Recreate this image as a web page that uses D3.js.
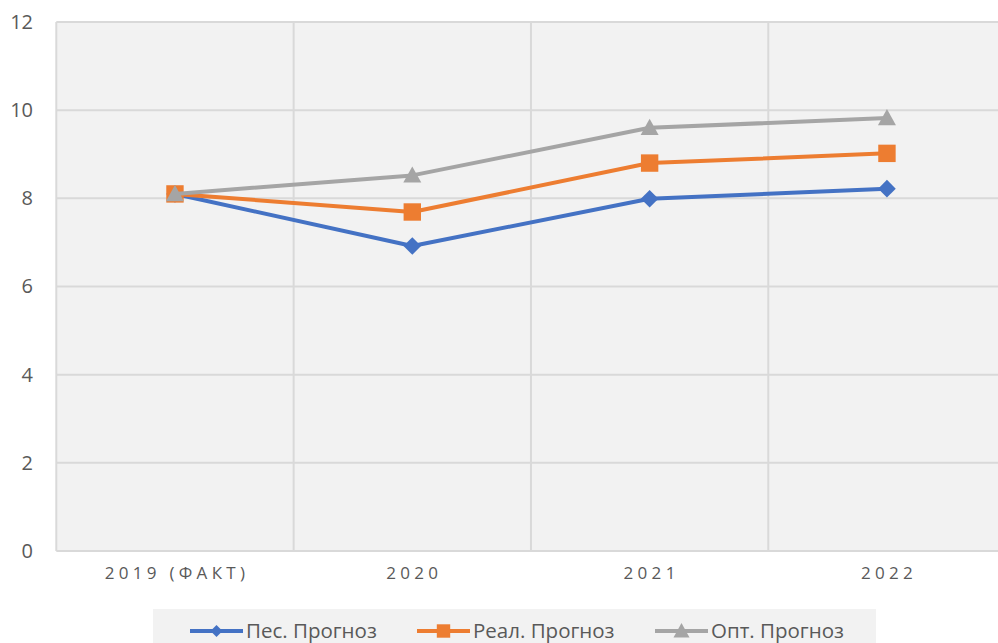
<!DOCTYPE html>
<html><head><meta charset="utf-8">
<script src="https://cdn.jsdelivr.net/npm/d3@7"></script>
<style>body{margin:0;background:#fff}svg{display:block}</style>
</head><body>
<svg id="c" width="998" height="643"></svg>
<script>
const categories = ["2019 (ФАКТ)", "2020", "2021", "2022"];
const pes = [8.1, 6.92, 7.99, 8.22];
const real = [8.1, 7.69, 8.8, 9.02];
const opt = [8.1, 8.52, 9.6, 9.82];
const yTicks = [0, 2, 4, 6, 8, 10, 12];
const seriesNames = ["Пес. Прогноз", "Реал. Прогноз", "Опт. Прогноз"];

const series = [
  {name: seriesNames[0], values: pes, color: "#4472c4", shape: "diamond"},
  {name: seriesNames[1], values: real, color: "#ed7d31", shape: "square"},
  {name: seriesNames[2], values: opt, color: "#a5a5a5", shape: "triangle"}
];

const svg = d3.select("#c");
const font = "'Open Sans', sans-serif";
const pLeft = 56.3, pTop = 22, pBottom = 551, bandW = 237.33;
const x = d3.scaleBand().domain(categories).range([pLeft, pLeft + bandW * categories.length]);
const y = d3.scaleLinear().domain([0, 12]).range([pBottom, pTop]);

svg.append("rect").attr("x", pLeft).attr("y", pTop)
  .attr("width", x.range()[1] - pLeft).attr("height", pBottom - pTop).attr("fill", "#f2f2f2");

svg.append("g").selectAll("line").data(yTicks).join("line")
  .attr("x1", pLeft).attr("x2", x.range()[1])
  .attr("y1", d => y(d)).attr("y2", d => y(d))
  .attr("stroke", "#d9d9d9").attr("stroke-width", 2);
const bounds = categories.map(c => x(c)).concat([x.range()[1]]);
svg.append("g").selectAll("line").data(bounds).join("line")
  .attr("x1", d => d).attr("x2", d => d).attr("y1", pTop).attr("y2", pBottom)
  .attr("stroke", "#d9d9d9").attr("stroke-width", 2);

const yAxis = d3.axisLeft(y).tickValues(yTicks).tickSize(0).tickPadding(0);
const ya = svg.append("g").attr("transform", "translate(33,0)").call(yAxis);
ya.select(".domain").remove();
ya.selectAll("text").attr("font-family", font).attr("font-size", 20).attr("fill", "#595959");

const xAxis = d3.axisBottom(x).tickSize(0).tickPadding(0);
const xa = svg.append("g").attr("transform", "translate(0,567)").call(xAxis);
xa.select(".domain").remove();
xa.selectAll("text").attr("font-family", font).attr("font-size", 17).attr("fill", "#595959")
  .attr("letter-spacing", "4.3px").attr("dx", "2px");

const cx = c => x(c) + x.bandwidth() / 2;
const line = d3.line().x((d, i) => cx(categories[i])).y(d => y(d));

function marker(g, shape, color, px, py, s) {
  if (shape === "diamond") {
    g.append("path").attr("d", `M${px},${py - s}L${px + s},${py}L${px},${py + s}L${px - s},${py}Z`).attr("fill", color);
  } else if (shape === "square") {
    g.append("rect").attr("x", px - s).attr("y", py - s).attr("width", 2 * s).attr("height", 2 * s).attr("fill", color);
  } else {
    g.append("path").attr("d", `M${px},${py - s}L${px + s},${py + s * 0.8}L${px - s},${py + s * 0.8}Z`).attr("fill", color);
  }
}
const sizes = {diamond: 8.8, square: 8.7, triangle: 9};
const legSizes = {diamond: 6, square: 6.7, triangle: 8};

series.forEach(s => {
  const g = svg.append("g");
  g.append("path").attr("d", line(s.values)).attr("fill", "none")
    .attr("stroke", s.color).attr("stroke-width", 4).attr("stroke-linejoin", "round");
  s.values.forEach((v, i) => marker(g, s.shape, s.color, cx(categories[i]), y(v), sizes[s.shape]));
});

const lg = svg.append("g");
lg.append("rect").attr("x", 153).attr("y", 609).attr("width", 723).attr("height", 40).attr("fill", "#f2f2f2");
const legX = [190, 417, 655];
series.forEach((s, i) => {
  const g = lg.append("g");
  const lx = legX[i];
  g.append("line").attr("x1", lx).attr("x2", lx + 53).attr("y1", 631).attr("y2", 631)
    .attr("stroke", s.color).attr("stroke-width", 4);
  marker(g, s.shape, s.color, lx + 26.5, 631, legSizes[s.shape]);
  g.append("text").attr("x", lx + 56).attr("y", 638).attr("font-family", font).attr("font-size", 20.5)
    .attr("fill", "#595959").text(s.name);
});
</script>
</body></html>
